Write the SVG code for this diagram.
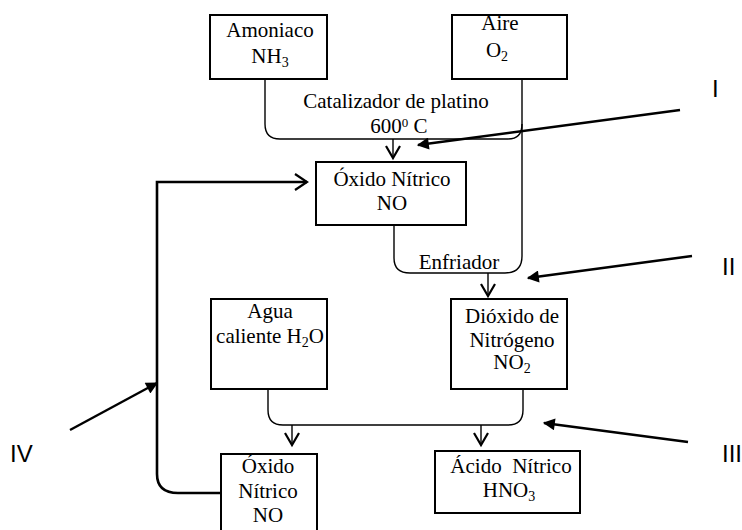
<svg xmlns="http://www.w3.org/2000/svg" width="742" height="530" viewBox="0 0 742 530">
<style>
.box{fill:#fff;stroke:#000;stroke-width:2}
.t{font-family:"Liberation Serif","Times New Roman",serif;font-size:21px;fill:#000;text-anchor:middle}
.s{font-family:"Liberation Sans",Arial,sans-serif;font-size:24px;fill:#000}
.c{fill:none;stroke:#000;stroke-width:1.4}
.v{fill:none;stroke:#000;stroke-width:2.2}
.loop{fill:none;stroke:#000;stroke-width:2.6}
.ptr{fill:none;stroke:#000;stroke-width:2.4}
</style>
<defs>
<marker id="tri" viewBox="0 0 10 10" refX="9" refY="5" markerWidth="7" markerHeight="5" markerUnits="strokeWidth" orient="auto">
<path d="M0,0 L10,5 L0,10 z" fill="#000"/>
</marker>
</defs>
<g id="connectors">
<path class="c" d="M265,79 V124 Q265,139 280,139 H508 Q522,139 522,124"/>
<path class="c" d="M522,79 V256 Q522,273 505,273 H410 Q394,273 394,258 V225"/>
<path class="c" d="M393,139 V158"/>
<path class="v" d="M386,146 L393,158 L400,146"/>
<path class="c" d="M488,273 V296"/>
<path class="v" d="M481,284 L488,296 L495,284"/>
<path class="c" d="M268,389 V410 Q268,425 283,425 H508 Q523,425 523,410 V389"/>
<path class="c" d="M292,425 V445"/>
<path class="v" d="M285,433 L292,445 L299,433"/>
<path class="c" d="M481,425 V445"/>
<path class="v" d="M474,433 L481,445 L488,433"/>
<path class="loop" d="M221,493 H178 Q157,493 157,474 V182 H307"/>
<path class="v" d="M295,174 L307,182 L295,190"/>
<line class="ptr" x1="680" y1="110" x2="418" y2="145" marker-end="url(#tri)"/>
<line class="ptr" x1="692" y1="256" x2="528" y2="278" marker-end="url(#tri)"/>
<line class="ptr" x1="688" y1="442" x2="544" y2="423" marker-end="url(#tri)"/>
<line class="ptr" x1="70" y1="430" x2="157" y2="383" marker-end="url(#tri)"/>
</g>
<g id="amoniaco">
<rect class="box" x="210" y="15" width="117" height="64"/>
<text class="t" x="270" y="37">Amoniaco</text>
<text class="t" x="270" y="63">NH<tspan font-size="14" dy="4">3</tspan></text>
</g>
<g id="aire">
<rect class="box" x="452" y="15" width="115" height="64"/>
<text class="t" x="500" y="30">Aire</text>
<text class="t" x="497" y="57">O<tspan font-size="14" dy="4">2</tspan></text>
</g>
<g id="catalizador">
<text class="t" x="396" y="108">Catalizador de platino</text>
<text class="t" x="399" y="133">600<tspan font-size="13" dy="-6">0</tspan><tspan dy="6"> C</tspan></text>
</g>
<g id="oxido1">
<rect class="box" x="316" y="162" width="150" height="63"/>
<text class="t" x="392" y="186">Óxido Nítrico</text>
<text class="t" x="392" y="210">NO</text>
</g>
<g id="enfriador">
<text class="t" x="459" y="269">Enfriador</text>
</g>
<g id="agua">
<rect class="box" x="211" y="299" width="116" height="90"/>
<text class="t" x="270" y="318">Agua</text>
<text class="t" x="270" y="343">caliente H<tspan font-size="14" dy="4">2</tspan><tspan dy="-4">O</tspan></text>
</g>
<g id="dioxido">
<rect class="box" x="451" y="299" width="116" height="90"/>
<text class="t" x="512" y="323">Dióxido de</text>
<text class="t" x="512" y="347">Nitrógeno</text>
<text class="t" x="512" y="369">NO<tspan font-size="14" dy="4">2</tspan></text>
</g>
<g id="oxido2">
<rect class="box" x="221" y="454" width="96" height="80"/>
<text class="t" x="268" y="473">Óxido</text>
<text class="t" x="268" y="498">Nítrico</text>
<text class="t" x="268" y="522">NO</text>
</g>
<g id="acido">
<rect class="box" x="435" y="451" width="145" height="62"/>
<text class="t" x="511" y="473" xml:space="preserve">Ácido  Nítrico</text>
<text class="t" x="509" y="497">HNO<tspan font-size="14" dy="4">3</tspan></text>
</g>
<g id="labels">
<text class="s" x="712" y="97">I</text>
<text class="s" x="722" y="275">II</text>
<text class="s" x="722" y="462">III</text>
<text class="s" x="10" y="462">IV</text>
</g>
</svg>
